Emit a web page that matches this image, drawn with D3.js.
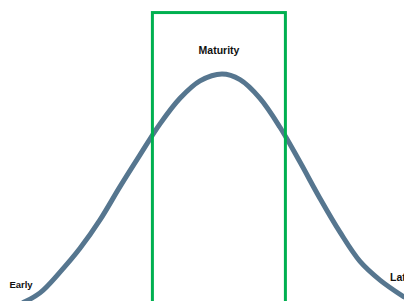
<!DOCTYPE html>
<html>
<head>
<meta charset="utf-8">
<script src="https://cdn.jsdelivr.net/npm/d3@7"></script>
<style>
  body { margin: 0; background: #fff; }
  svg { display: block; }
</style>
</head>
<body>
<div id="chart"></div>
<script>
// time along the life cycle (arbitrary units) and relative level
var stageX = [0, 1, 2, 3, 4, 5, 6, 7, 8, 9, 10, 11.1, 12, 13, 14, 15, 16, 17, 18, 19, 20.2];
var level  = [6, 10, 14.5, 22.6, 31.9, 43, 56, 68.4, 80.5, 90.5, 97.3, 100, 97.8, 90.5, 79.2, 65.6, 51.4, 38.2, 26.8, 19.5, 12.9];

// maturity box spans these x values, top at this level
var boxX = [7.62, 14.27];
var boxTop = 124;

var labels = [
  {text: "Early", x: 0.47, y: 16.5, size: 9.5, anchor: "start"},
  {text: "Maturity", x: 10.95, y: 108, size: 10.5, anchor: "middle"},
  {text: "Late", x: 19.5, y: 19, size: 10.5, anchor: "start"}
];

var width = 404, height = 301;

var svg = d3.select("#chart").append("svg")
  .attr("width", width)
  .attr("height", height);

var xScale = d3.scaleLinear().domain([0, 20.2]).range([0, width]);
var yScale = d3.scaleLinear().domain([0, 100]).range([330, 74]);

var pts = stageX.map(function(d, i) { return [d, level[i]]; });

var line = d3.line()
  .x(function(d) { return xScale(d[0]); })
  .y(function(d) { return yScale(d[1]); })
  .curve(d3.curveCatmullRom);

svg.append("path")
  .datum(pts)
  .attr("d", line)
  .attr("fill", "none")
  .attr("stroke", "#56768f")
  .attr("stroke-width", 5)
  .attr("stroke-linecap", "round");

// green box, open at the bottom (runs off the picture)
svg.append("rect")
  .attr("x", xScale(boxX[0]))
  .attr("y", yScale(boxTop))
  .attr("width", xScale(boxX[1]) - xScale(boxX[0]))
  .attr("height", height)
  .attr("fill", "none")
  .attr("stroke", "#00b050")
  .attr("stroke-width", 3);

svg.selectAll(".lbl")
  .data(labels)
  .enter().append("text")
  .attr("class", "lbl")
  .attr("x", function(d) { return xScale(d.x); })
  .attr("y", function(d) { return yScale(d.y); })
  .attr("text-anchor", function(d) { return d.anchor; })
  .style("font-family", "'Liberation Sans', Arial, sans-serif")
  .style("font-weight", "bold")
  .style("font-size", function(d) { return d.size + "px"; })
  .style("fill", "#111")
  .text(function(d) { return d.text; });
</script>
</body>
</html>
